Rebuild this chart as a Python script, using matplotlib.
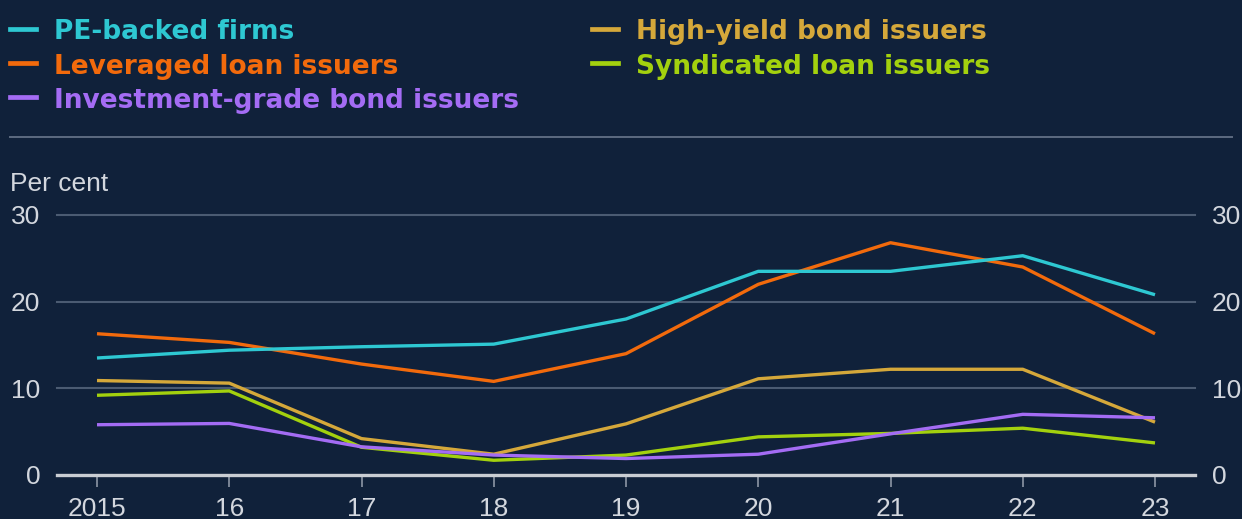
"""Share of firms by financing type, dark theme line chart."""

import matplotlib

matplotlib.use("Agg")

import matplotlib.pyplot as plt
from matplotlib.lines import Line2D

years = [2015, 2016, 2017, 2018, 2019, 2020, 2021, 2022, 2023]
year_labels = ["2015", "16", "17", "18", "19", "20", "21", "22", "23"]

pe_backed = [13.5, 14.4, 14.8, 15.1, 18.0, 23.5, 23.5, 25.3, 20.8]
leveraged_loan = [16.3, 15.3, 12.8, 10.8, 14.0, 22.0, 26.8, 24.0, 16.3]
high_yield = [10.9, 10.6, 4.2, 2.4, 5.9, 11.1, 12.2, 12.2, 6.1]
syndicated_loan = [9.2, 9.7, 3.2, 1.7, 2.3, 4.4, 4.8, 5.4, 3.7]
investment_grade = [5.8, 5.95, 3.25, 2.3, 1.9, 2.4, 4.75, 7.0, 6.6]

BG = "#10213a"
TEXT = "#d3d7de"
GRID = "#4b5b72"

series = [
    ("PE-backed firms", pe_backed, "#2ec8d2"),
    ("Leveraged loan issuers", leveraged_loan, "#f26a0c"),
    ("Investment-grade bond issuers", investment_grade, "#a46cf4"),
    ("High-yield bond issuers", high_yield, "#d5a83a"),
    ("Syndicated loan issuers", syndicated_loan, "#a3d10e"),
]

plt.rcParams["font.family"] = ["Liberation Sans", "DejaVu Sans"]

W, H = 1242, 519
fig = plt.figure(figsize=(W / 100, H / 100), dpi=100, facecolor=BG)

# pixel box of the plotting area
ax = fig.add_axes([57 / W, 1 - 475 / H, 1138 / W, 260 / H], facecolor=BG)
step = (1155 - 97) / 8
ax.set_xlim(2015 - 40 / step, 2023 + 40 / step)
ax.set_ylim(0, 30)

for y in [10, 20, 30]:
    ax.axhline(y, color=GRID, lw=1.5, zorder=1, clip_on=False)
ax.axhline(0, color="#c9cdd3", lw=2.4, zorder=5, clip_on=False)

# draw order so purple sits above gold/green like the reference
order = [3, 4, 2, 1, 0]
for i in order:
    name, vals, col = series[i]
    ax.plot(years, vals, color=col, lw=2.4, zorder=3, solid_capstyle="butt")

for s in ax.spines.values():
    s.set_visible(False)

ax.set_xticks(years)
ax.set_xticklabels(year_labels)
ax.tick_params(axis="x", colors="#8c96a5", length=8.5, width=1.2, pad=7,
               labelsize=19, labelcolor=TEXT)
ax.set_yticks([0, 10, 20, 30])
ax.tick_params(axis="y", length=0, labelsize=19, labelcolor=TEXT,
               left=True, right=True, labelleft=True, labelright=True, pad=12)

fig.text(10 / W, 1 - 191 / H, "Per cent", color=TEXT, fontsize=19,
         va="baseline", ha="left")

# legend, drawn by hand: (series index, x of marker, y of marker, y of baseline)
legend_pos = [
    (0, 10, 29, 39), (1, 10, 63, 74), (2, 10, 97, 108),
    (3, 592, 29, 39), (4, 592, 63, 74),
]
for idx, x0, ym, yb in legend_pos:
    name, _, col = series[idx]
    fig.add_artist(Line2D([x0 / W, (x0 + 26) / W], [1 - ym / H, 1 - ym / H],
                          color=col, lw=3.4, transform=fig.transFigure))
    fig.text((x0 + 44) / W, 1 - yb / H, name, color=col, fontsize=19,
             fontweight="bold", family=["DejaVu Sans"], va="baseline", ha="left")

fig.add_artist(Line2D([10 / W, 1232 / W], [1 - 137 / H, 1 - 137 / H],
                      color="#5d6b80", lw=1.4, transform=fig.transFigure))

fig.savefig("out.png", dpi=100, facecolor=BG)
